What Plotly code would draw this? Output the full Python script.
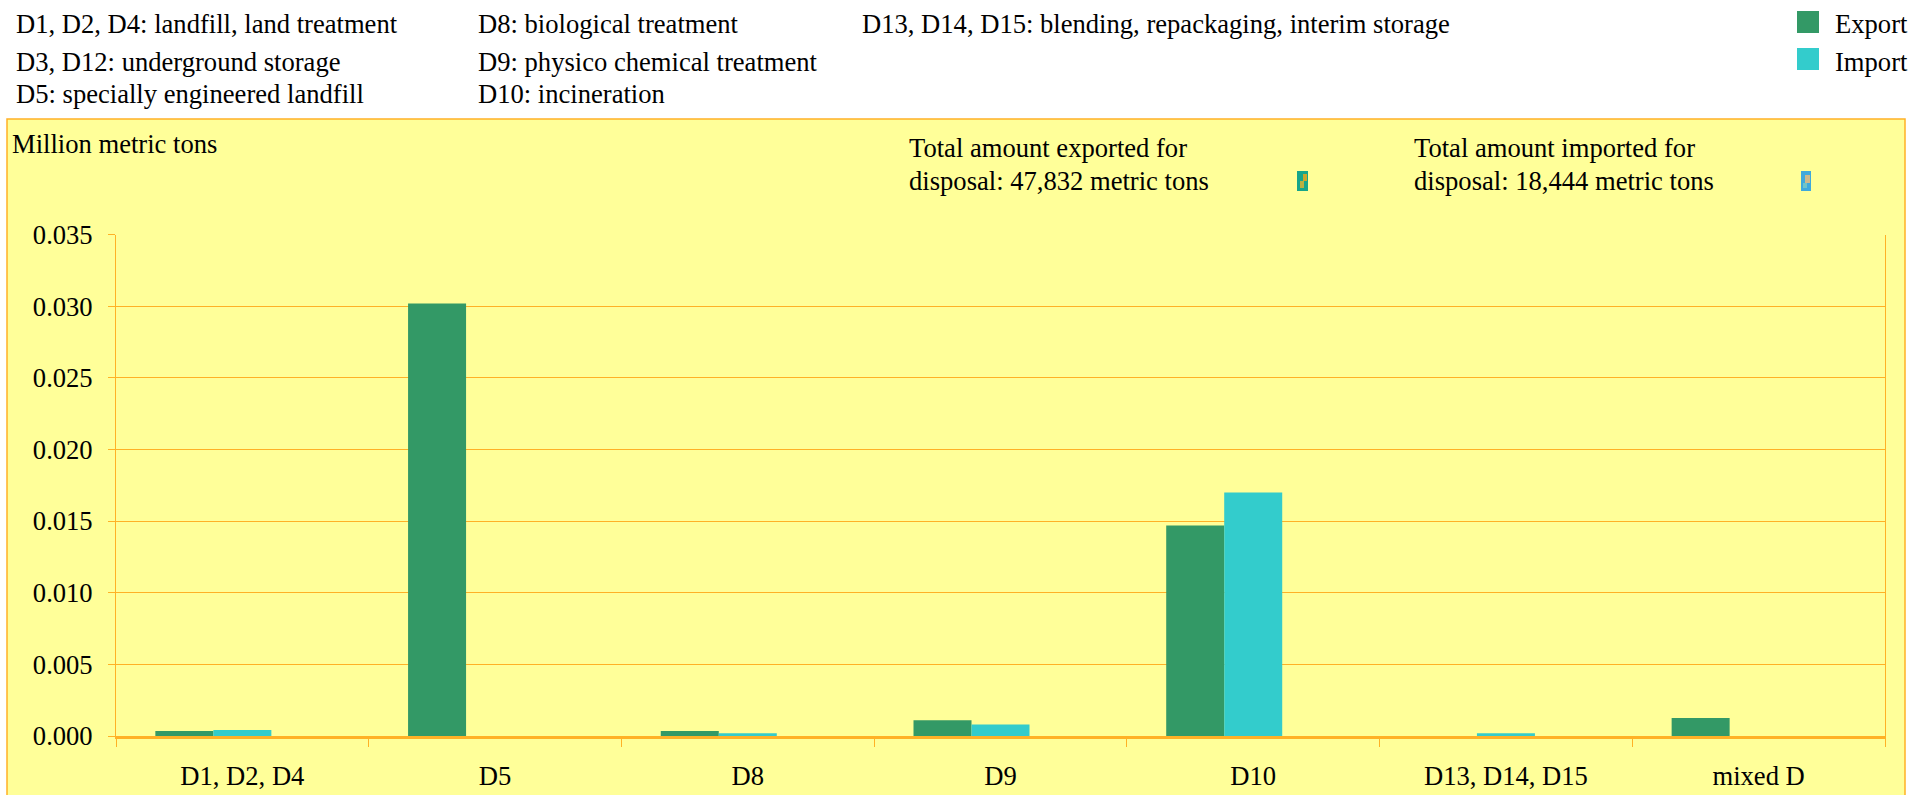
import plotly.graph_objects as go

W, H = 1910, 795

categories = ["D1, D2, D4", "D5", "D8", "D9", "D10", "D13, D14, D15", "mixed D"]
export_values = [0.00035, 0.0302, 0.00035, 0.0011, 0.0147, 0.0, 0.00125]
import_values = [0.00042, 0.0, 0.0002, 0.0008, 0.0170, 0.0002, 0.0]
y_ticks = [0.0, 0.005, 0.010, 0.015, 0.020, 0.025, 0.030, 0.035]

definitions = [
    ("D1, D2, D4: landfill, land treatment", 14, 24),
    ("D3, D12: underground storage", 14, 62),
    ("D5: specially engineered landfill", 14, 94),
    ("D8: biological treatment", 476, 24),
    ("D9: physico chemical treatment", 476, 62),
    ("D10: incineration", 476, 94),
    ("D13, D14, D15: blending, repackaging, interim storage", 860, 24),
    ("Export", 1833, 24),
    ("Import", 1833, 62),
    ("Million metric tons", 10, 144),
    ("Total amount exported for", 907, 148),
    ("disposal: 47,832 metric tons", 907, 181),
    ("Total amount imported for", 1412, 148),
    ("disposal: 18,444 metric tons", 1412, 181),
]

GREEN, CYAN, YELLOW, ORANGE = "#339966", "#33CCCC", "#FFFF99", "#FFB126"
FONT = "Liberation Serif"
SIZE = 26.6


def px(x):
    return x / W


def py(y):
    return 1 - y / H


def rect(x0, y0, x1, y1, fill, line=None, width=0, layer="above"):
    return dict(type="rect", xref="paper", yref="paper", x0=px(x0), x1=px(x1), y0=py(y0), y1=py(y1),
                fillcolor=fill, line=dict(color=line or fill, width=width), layer=layer)


BAR_W = 58 / 252.7
fig = go.Figure()
fig.add_bar(x=categories, y=export_values, name="Export", marker_color=GREEN, marker_line_width=0,
            width=BAR_W, offset=-87 / 252.7)
fig.add_bar(x=categories, y=import_values, name="Import", marker_color=CYAN, marker_line_width=0,
            width=BAR_W, offset=-29 / 252.7)

shapes = [
    rect(7, 119, 1905, 830, YELLOW, ORANGE, 1.5, "below"),
    rect(1797, 11, 1819, 33, GREEN),
    rect(1797, 48, 1819, 70, CYAN),
    # small picture icons beside the totals
    rect(1297, 171, 1308, 191, "#16A58A"),
    rect(1303, 174, 1307, 181, "#C9A62A"),
    rect(1300, 181, 1304, 188, "#B9B040"),
    rect(1801, 171, 1811, 191, "#3FA9DC"),
    rect(1805, 175, 1810, 183, "#CDB98A"),
    rect(1803, 183, 1807, 188, "#6FC4C8"),
]

annotations = [
    dict(text=t, x=px(x), y=py(y), xref="paper", yref="paper", xanchor="left", yanchor="middle",
         showarrow=False, font=dict(family=FONT, size=SIZE, color="black"))
    for t, x, y in definitions
]

fig.update_layout(
    width=W, height=H, autosize=False, margin=dict(l=0, r=0, t=0, b=0, pad=0),
    paper_bgcolor="white", plot_bgcolor=YELLOW, barmode="overlay", showlegend=False,
    font=dict(family=FONT, size=SIZE, color="black"),
    shapes=shapes, annotations=annotations,
    xaxis=dict(domain=[px(116), px(1885)], type="category", categoryorder="array", categoryarray=categories,
               automargin=False, tickson="boundaries", ticks="outside", ticklen=8, tickwidth=1, tickcolor=ORANGE,
               showline=True, linecolor=ORANGE, linewidth=2.5, showgrid=False, ticklabelstandoff=14,
               tickfont=dict(family=FONT, size=SIZE)),
    yaxis=dict(domain=[py(736), py(234.7)], range=[0, 0.035], tickmode="array", tickvals=y_ticks,
               automargin=False, ticktext=[f"{v:.3f}" for v in y_ticks], ticks="outside", ticklen=7, tickwidth=1,
               tickcolor=ORANGE, showline=True, linecolor=ORANGE, linewidth=1, mirror=True,
               showgrid=True, gridcolor=ORANGE, gridwidth=1, zeroline=False, ticklabelstandoff=10,
               tickfont=dict(family=FONT, size=SIZE)),
)

fig.write_html("out.html", config={"displayModeBar": False},
               post_script="document.body.style.margin='0';document.documentElement.style.overflow='hidden';")
